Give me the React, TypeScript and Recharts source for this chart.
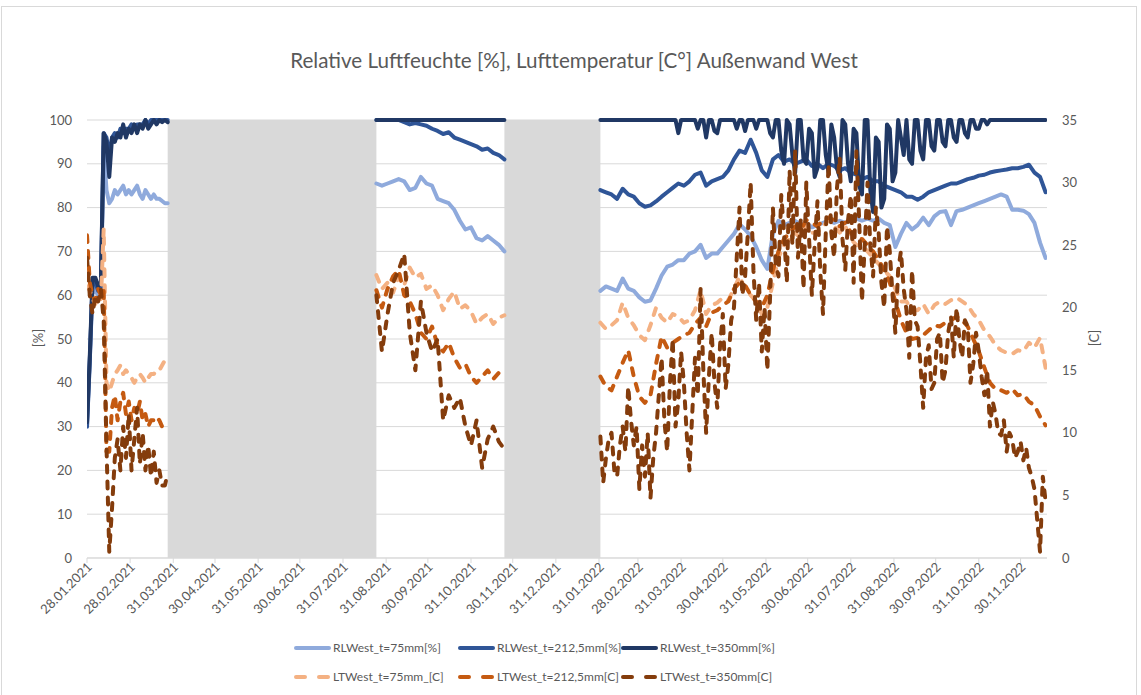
import { LineChart, Line, XAxis, YAxis, CartesianGrid, ReferenceArea } from 'recharts'

const FONT = 'Lato, "Liberation Sans", sans-serif'
const TEXT = '#595959'
const GRID = '#d9d9d9'

// x axis labels, one per month end
const monthTicks = [
  '28.01.2021', '28.02.2021', '31.03.2021', '30.04.2021', '31.05.2021', '30.06.2021',
  '31.07.2021', '31.08.2021', '30.09.2021', '31.10.2021', '30.11.2021', '31.12.2021',
  '31.01.2022', '28.02.2022', '31.03.2022', '30.04.2022', '31.05.2022', '30.06.2022',
  '31.07.2022', '31.08.2022', '30.09.2022', '31.10.2022', '30.11.2022',
]
const pctTicks = [0, 10, 20, 30, 40, 50, 60, 70, 80, 90, 100]
const tempTicks = [0, 5, 10, 15, 20, 25, 30, 35]

// periods without measurements (grey bands)
const gaps = [
  ['27.03.2021', '24.08.2021'],
  ['24.11.2021', '01.02.2022'],
]

const periodStart = ['28.01.2021', '24.08.2021', '01.02.2022']
const stepSmooth = [2, 4, 4]
const stepNoisy = [2, 4, 2] // the noisy series were read more densely in 2022

// relative humidity [%] (left axis)
const rl75 = [
  [30, 45, 62, 61, 60, 61, 94, 84, 81, 82, 84, 83, 84, 85, 83, 84, 83, 84, 85, 83, 82, 84, 83, 82, 83, 82, 82, 81.5, 81, 81],
  [85.5, 85, 85.5, 86, 86.5, 86, 84, 84.5, 87, 85.5, 85, 82, 81.5, 81, 79.5, 77, 75, 75.5, 73, 72.5, 73.5, 72.5, 71.5, 70],
  [61, 62, 61.5, 61, 63.8, 61.5, 61, 59.5, 58.5, 58.8,
    61.5, 64.5, 66.5, 67, 68, 68, 69.5, 70, 71.5, 68.5,
    69.5, 69.5, 71, 72.5, 74, 76.2, 75, 73.5, 71, 68,
    66, 74, 77, 76, 76.5, 77, 76, 76.5, 75.5, 76,
    76.5, 77, 76.5, 77, 76.5, 77, 77.5, 77, 77.5, 77,
    77.5, 76.5, 76, 71, 74, 76.5, 75, 76, 77.7, 76,
    78, 79, 79.2, 76, 79.2, 79.5, 80, 80.5, 81, 81.5,
    82, 82.5, 83, 82.5, 79.5, 79.5, 79.3, 78.5, 76.5, 72,
    68.5],
]
const rl212 = [
  [30, 45, 63, 63, 61, 62, 97, 96, 92, 96, 97, 96, 98, 97, 98, 98, 99, 98, 99, 99, 99, 100, 99, 100, 100, 100, 100, 100, 100, 100],
  [100, 100, 100, 100, 100, 99.5, 99, 99.3, 99, 98.7, 98, 97.5, 96.8, 97.2, 96, 95.5, 95, 94.5, 94, 93.2, 93.5, 92.5, 92, 91],
  [84, 83.5, 83, 82, 84.3, 83, 82.5, 81, 80.2, 80.5,
    81.4, 82.5, 83.5, 84.5, 85.5, 85, 86, 87.5, 88, 85,
    86, 86.5, 87, 88.5, 91, 93, 92.5, 95.5, 92.5, 88.5,
    87, 91, 92, 90.5, 91, 90, 90.5, 91, 89.5, 90,
    89, 90, 89.5, 88.5, 89, 88, 87.5, 86.5, 87, 86,
    86, 85, 84.5, 84, 83.5, 82.5, 82.5, 81.8, 82.5, 83.5,
    84, 84.5, 85, 85.5, 85.5, 86, 86.5, 86.8, 87.3, 87.5,
    88, 88.3, 88.5, 88.7, 89, 89, 89.3, 89.8, 88, 87,
    83.5],
]
const rl350 = [
  [31, 46, 64, 64, 62, 63, 97, 95, 87, 96, 95, 97, 96, 99, 96, 98, 97, 99, 97, 99, 98, 100, 98, 99, 100, 99, 100, 99.5, 100, 99.5],
  [100, 100, 100, 100, 100, 100, 100, 100, 100, 100, 100, 100, 100, 100, 100, 100, 100, 100, 100, 100, 100, 100, 100, 100],
  [100, 100, 100, 100, 100, 100, 100, 100, 100, 100, 100, 100, 100, 100, 100, 100, 100, 100, 100, 100,
    100, 100, 100, 100, 100, 100, 100, 100, 97, 100, 100, 100, 100, 100, 100, 98, 100, 100, 96, 100,
    100, 97.5, 97, 100, 100, 100, 100, 100, 100, 98, 100, 100, 97.5, 100, 100, 100, 98, 100, 100, 100,
    100, 97, 96, 100, 100, 93, 90, 100, 99, 92, 88, 100, 100, 91, 90, 98, 97, 87, 89, 100,
    100, 92, 88, 99, 96, 89, 87, 100, 99, 90, 86, 98, 97, 85, 83, 100, 100, 84, 79, 96,
    95, 80, 82, 99, 98, 86, 88, 100, 96, 92, 100, 91, 90, 100, 100, 93, 91, 100, 100, 94,
    93, 100, 100, 95, 94, 100, 100, 96, 95, 100, 100, 97, 96, 100, 100, 98, 98, 100, 100, 99,
    100, 100, 100, 100, 100, 100, 100, 100, 100, 100, 100, 100, 100, 100, 100, 100, 100, 100, 100, 100,
    100],
]

// air temperature [C] (right axis)
const lt75 = [
  [21.7, 21.4, 20.7, 20.3, 21, 20.7, 26.3, 14, 13.3, 14, 14.7, 15, 15.4, 14.7, 15, 14.7, 14.4, 14, 14.4, 14.7, 14.4, 14, 14.4, 14.7, 14.7, 15, 15, 15.4, 15.8, 15.8],
  [22.6, 21.5, 22, 21.2, 22.5, 21.8, 23.2, 22.4, 22.7, 21.5, 21.8, 21, 19.8, 20.7, 21.3, 19.9, 20.2, 19.7, 18.7, 19.2, 19.5, 18.7, 19.2, 19.4],
  [18.8, 18.3, 18.6, 19, 20.4, 19.2, 18.6, 17.8, 17.4, 18.6,
    20, 19.2, 18.8, 19.5, 19.3, 18.8, 19, 19.8, 21.4, 19.5,
    20.2, 20.4, 20.8, 20.6, 21.5, 22.5, 21.5, 21, 20.5, 19.5,
    20, 22, 24, 25, 25.5, 26, 25.5, 26.5, 26, 26,
    26.5, 27, 26.5, 26, 26.5, 25.5, 25, 25, 24.5, 24,
    23.5, 23, 22.5, 21.5, 20.5, 20.5, 19.8, 19.8, 20.3, 19.5,
    20.2, 20.5, 20.3, 20.6, 20.8, 20.5, 20.2, 19.5, 19, 18.2,
    17.7, 17, 16.6, 16.4, 16.3, 16.6, 16.5, 17.2, 16.8, 17.6,
    15.2],
]
const lt212 = [
  [25.8, 22, 21, 20.5, 21.5, 21, 21.5, 8.5, 8.5, 12, 13, 11, 12.5, 13.2, 11.5, 12.5, 11, 12, 11.5, 12.5, 11, 11.5, 10.5, 11, 11, 11.3, 11, 10.5, 10.8, 11],
  [21.4, 20, 21.5, 22.5, 23, 21, 20.5, 19.5, 18, 17.5, 18.5, 17, 16.5, 17.2, 16, 15.2, 15.5, 14.5, 14, 14.5, 15, 14.3, 14.8, 14.6],
  [14.5, 13.7, 13.4, 14.5, 15.6, 16.6, 14.5, 12.9, 12.4, 13,
    15.5, 17.7, 16.8, 17.2, 17.5, 17.8, 18, 18.7, 19.2, 18.5,
    19.6, 19.8, 20.2, 20.5, 21.5, 22, 21.8, 21, 20.5, 20,
    21, 23, 24.5, 25.5, 26, 26.5, 26.2, 27, 26.8, 26.5,
    27, 27.2, 27, 26.5, 26.8, 26, 25.5, 25.5, 25, 24.5,
    23.8, 23, 22, 20.5, 19, 18, 17.5, 17.6, 17.8, 18.2,
    18.6, 18.5, 18.8, 19, 19.3, 19, 18.5, 17.5, 16.5, 15.2,
    14, 13.5, 13.4, 13.2, 13.5, 13, 13.1, 12.5, 12.2, 11.3,
    10.6],
]
const lt350 = [
  [24, 21, 19.5, 21, 20.5, 21.5, 19, 9, 0.5, 4, 8, 9.5, 7, 10.5, 8, 11.5, 7, 9.5, 12, 7.5, 10, 7, 9, 6.5, 8.5, 6, 7, 5.8, 5.8, 6.8],
  [21, 16.5, 19.5, 22, 23, 24.3, 18, 15, 20.5, 18, 16.5, 17.5, 11, 13, 12, 12.8, 10.5, 9, 11, 7.2, 9.5, 10.5, 9.3, 8.7],
  [9.7, 6, 8, 9.5, 10, 7, 6.5, 9, 10.5, 8.5, 13.7, 11, 9, 10.5, 5.5, 9, 6.5, 10, 4.8, 8,
    10, 13, 16, 11, 8.5, 14, 17.5, 10.5, 12.5, 16.5, 14, 10, 7, 11.5, 16, 13, 21.5, 15, 10, 14.5,
    18, 14, 12, 17, 19.5, 13.5, 15.5, 19, 20, 24, 28, 21, 22.5, 26, 30, 23, 19, 22, 16.5, 20,
    15, 21, 28, 23.5, 22.5, 29, 26, 22, 31, 25, 32.5, 24, 27, 21.5, 30, 25.5, 21, 25, 28.5, 23,
    19.5, 26, 31.5, 26, 24, 29.5, 32, 25.5, 23, 27, 29, 22, 32.5, 27, 20.5, 25, 30, 25, 22.5, 28,
    26, 22, 20, 26.5, 24.5, 21, 18, 23, 24.5, 21.5, 19.8, 16, 23, 19, 18.5, 15.5, 12, 16, 17, 13.5,
    14, 17.5, 18, 14, 15, 18, 19.3, 16, 20, 17.5, 16, 19, 18.5, 14, 15.5, 18, 16.5, 14.5, 13, 15,
    10.5, 12.5, 11.5, 10, 9.8, 11, 8.5, 10, 9.5, 8, 8.5, 9.3, 7.8, 8.8, 7.2, 6.5, 5.5, 3, 0.5, 6.5,
    4.5],
]

const series = [
  { key: 'rl75', name: 'RLWest_t=75mm[%]', color: '#8faadc', axis: 'pct', dashed: false, values: rl75, steps: stepSmooth },
  { key: 'rl212', name: 'RLWest_t=212,5mm[%]', color: '#2f5597', axis: 'pct', dashed: false, values: rl212, steps: stepSmooth },
  { key: 'rl350', name: 'RLWest_t=350mm[%]', color: '#203864', axis: 'pct', dashed: false, values: rl350, steps: stepNoisy },
  { key: 'lt75', name: 'LTWest_t=75mm_[C]', color: '#f4b183', axis: 'temp', dashed: true, values: lt75, steps: stepSmooth },
  { key: 'lt212', name: 'LTWest_t=212,5mm[C]', color: '#c55a11', axis: 'temp', dashed: true, values: lt212, steps: stepSmooth },
  { key: 'lt350', name: 'LTWest_t=350mm[C]', color: '#843c0c', axis: 'temp', dashed: true, values: lt350, steps: stepNoisy },
]

const DAY_MS = 86400000
const toUtc = (s: string) => {
  const [d, m, y] = s.split('.').map(Number)
  return Date.UTC(y, m - 1, d)
}
const origin = toUtc(monthTicks[0])
const dayOf = (s: string) => Math.round((toUtc(s) - origin) / DAY_MS)
const pad = (n: number) => String(n).padStart(2, '0')
const fmtDay = (t: number) => {
  const d = new Date(origin + t * DAY_MS)
  return `${pad(d.getUTCDate())}.${pad(d.getUTCMonth() + 1)}.${d.getUTCFullYear()}`
}

const tickDays = monthTicks.map(dayOf)

// rows for one line; an empty row after each period breaks the line
function lineRows(values: number[][], steps: number[]) {
  const out: { t: number; v: number | null }[] = []
  periodStart.forEach((start, p) => {
    const t0 = dayOf(start)
    values[p].forEach((v, i) => out.push({ t: t0 + i * steps[p], v }))
    out.push({ t: t0 + (values[p].length - 1) * steps[p] + 1, v: null })
  })
  return out
}

function DateTick({ x, y, payload }: any) {
  const ax = x + 3
  return (
    <text x={ax} y={y} dy={4} textAnchor="end" fill={TEXT} fontSize={13} fontFamily={FONT}
      transform={`rotate(-45 ${ax} ${y})`}>
      {fmtDay(payload.value)}
    </text>
  )
}

function LegendSwatch({ color, dashed }: { color: string; dashed: boolean }) {
  return (
    <svg width={37} height={10} style={{ display: 'block' }}>
      <line x1={2} x2={35} y1={5} y2={5} stroke={color} strokeWidth={4} strokeLinecap="round"
        strokeDasharray={dashed ? '9 14' : undefined} />
    </svg>
  )
}

const legendCols = [294, 458, 621]
const legendRows = [648, 677]

export default function App() {
  return (
    <div style={{ position: 'relative', width: 1141, height: 695, background: '#fff', fontFamily: FONT, overflow: 'hidden' }}>
      <style>{'body{margin:0}'}</style>
      <div style={{ position: 'absolute', left: 1, top: 6, width: 1134, height: 700, border: `1px solid ${GRID}` }} />
      <div style={{ position: 'absolute', left: 0, top: 47, width: 1148, textAlign: 'center', fontSize: 20.6, lineHeight: '26px', color: TEXT }}>
        Relative Luftfeuchte [%], Lufttemperatur [C°] Außenwand West
      </div>
      <LineChart width={1141} height={695} margin={{ top: 120, right: 34, bottom: 77, left: 27 }}>
        <CartesianGrid yAxisId="pct" vertical={false} stroke={GRID} strokeWidth={1} />
        <XAxis dataKey="t" type="number" domain={[0, 690]} ticks={tickDays} interval={0} height={60}
          tickSize={5} tickMargin={2} axisLine={{ stroke: GRID }} tickLine={{ stroke: GRID }}
          tick={(p: any) => <DateTick {...p} />} allowDataOverflow />
        <YAxis yAxisId="pct" domain={[0, 100]} ticks={pctTicks} interval={0} width={60}
          axisLine={false} tickLine={false} tickSize={0} tickMargin={15}
          tick={{ fill: TEXT, fontSize: 13, fontFamily: FONT }} />
        <YAxis yAxisId="temp" orientation="right" domain={[0, 35]} ticks={tempTicks} interval={0} width={60}
          axisLine={false} tickLine={false} tickSize={0} tickMargin={15}
          tick={{ fill: TEXT, fontSize: 13, fontFamily: FONT }} />
        {gaps.map(([a, b]) => (
          <ReferenceArea key={a} yAxisId="pct" x1={dayOf(a)} x2={dayOf(b)} fill={GRID} fillOpacity={1} stroke="none" />
        ))}
        {series.map((s) => (
          <Line key={s.key} data={lineRows(s.values, s.steps)} yAxisId={s.axis} dataKey="v" name={s.name} type="linear"
            stroke={s.color} strokeWidth={4} strokeDasharray={s.dashed ? '7 9' : undefined}
            strokeLinecap="round" strokeLinejoin="round"
            dot={false} activeDot={false} isAnimationActive={false} />
        ))}
      </LineChart>
      <div style={{ position: 'absolute', left: 38, top: 338, transform: 'translate(-50%, -50%) rotate(-90deg)', fontSize: 13, color: TEXT }}>[%]</div>
      <div style={{ position: 'absolute', left: 1094, top: 338, transform: 'translate(-50%, -50%) rotate(-90deg)', fontSize: 13, color: TEXT }}>[C]</div>
      {series.map((s, i) => (
        <div key={s.key} style={{
          position: 'absolute', left: legendCols[i % 3], top: legendRows[Math.floor(i / 3)] - 8,
          display: 'flex', alignItems: 'center', fontSize: 12, lineHeight: '16px', color: TEXT, whiteSpace: 'nowrap',
        }}>
          <LegendSwatch color={s.color} dashed={s.dashed} />
          <span style={{ marginLeft: 2 }}>{s.name}</span>
        </div>
      ))}
    </div>
  )
}
